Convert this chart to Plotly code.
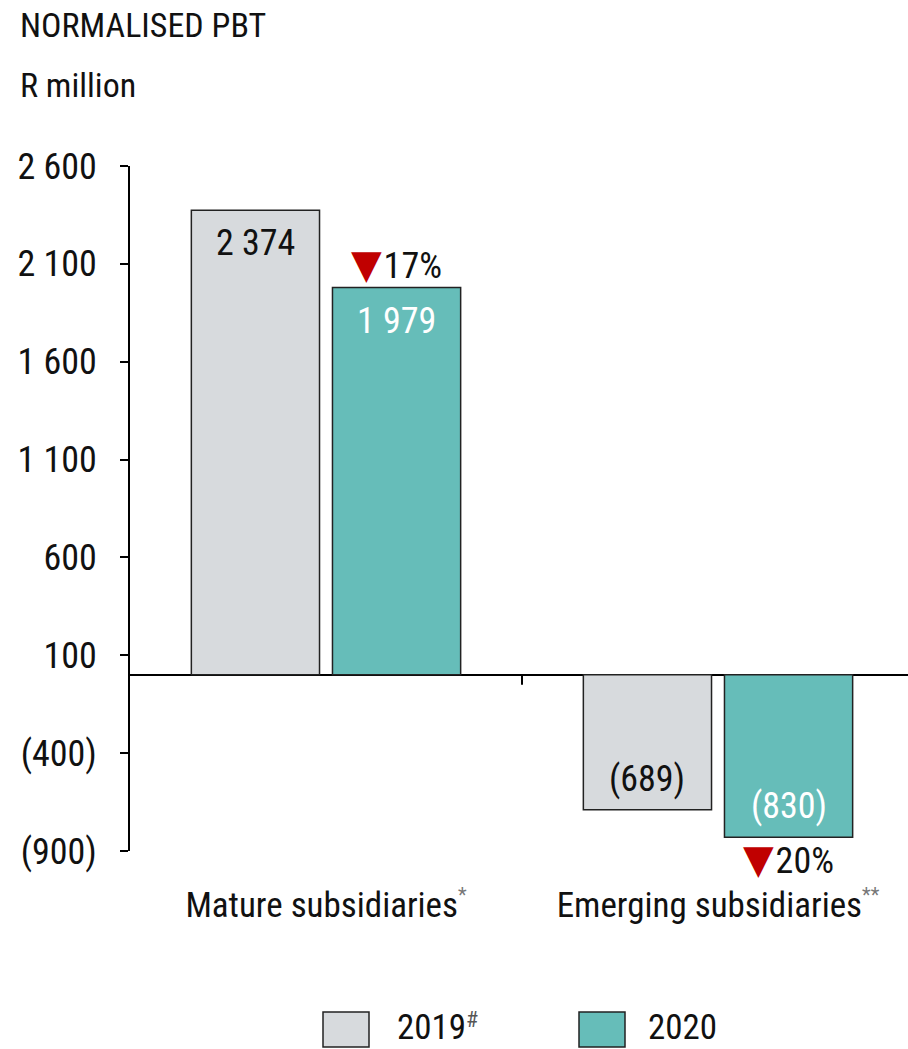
import plotly.graph_objects as go

# ---- data -------------------------------------------------------------
categories = ["Mature subsidiaries", "Emerging subsidiaries"]
category_marks = ["*", "**"]
years = ["2019", "2020"]
year_marks = ["#", ""]
pbt_2019 = [2374, -689]
pbt_2020 = [1979, -830]
y_ticks = [-900, -400, 100, 600, 1100, 1600, 2100, 2600]

# ---- style ------------------------------------------------------------
FONT = "Liberation Sans Narrow, Arial Narrow, Roboto Condensed, Roboto, sans-serif"
INK = "#111111"
GREY_FILL = "#d7dadd"
TEAL_FILL = "#66bdb9"
RED = "#c00000"
EDGE = "#222222"

W, H = 908, 1049
M_L, M_R, M_T, M_B = 130, 0, 166, 198
PLOT_W = W - M_L - M_R
PLOT_H = H - M_T - M_B
CAT_PX = 392                      # width of one category slot in pixels
X_RANGE = [-0.5, -0.5 + PLOT_W / CAT_PX]

BAR_W = 0.327
BAR_GAP = 0.033
offsets = [-(BAR_W + BAR_GAP / 2), BAR_GAP / 2]


def fmt(v):
    s = f"{abs(v):,.0f}".replace(",", " ")
    return f"({s})" if v < 0 else s


def px_x(px):
    return (px - M_L) / PLOT_W


def px_y(py):
    return (H - M_B - py) / PLOT_H


series = [pbt_2019, pbt_2020]
fills = [GREY_FILL, TEAL_FILL]
label_colors = [INK, "white"]
xs = list(range(len(categories)))

fig = go.Figure()
for k, vals in enumerate(series):
    fig.add_trace(go.Bar(
        x=xs, y=vals, name=years[k],
        width=BAR_W, offset=offsets[k],
        marker=dict(color=fills[k], line=dict(color=EDGE, width=1.5)),
        showlegend=False, hoverinfo="skip",
    ))

annotations = []
# value labels inside bars, near the bar end
for k, vals in enumerate(series):
    for i, v in enumerate(vals):
        annotations.append(dict(
            x=i + offsets[k] + BAR_W / 2, y=v, xref="x", yref="y",
            text=fmt(v), showarrow=False,
            yanchor="middle", yshift=-33 if v >= 0 else 31,
            font=dict(family=FONT, size=36, color=label_colors[k]),
        ))

# year-on-year change markers on the 2020 bars
for i, (a, b) in enumerate(zip(pbt_2019, pbt_2020)):
    pct = round(abs((b - a) / a) * 100)
    arrow = "▼" if b < a else "▲"
    annotations.append(dict(
        x=i + offsets[1] + BAR_W / 2, y=b, xref="x", yref="y",
        text=(f"<span style='color:{RED};font-family:DejaVu Sans;font-size:40px'>{arrow}</span>"
              f"<span style='font-size:8px'> </span>{pct}%"),
        showarrow=False, yanchor="middle",
        yshift=24 if b >= 0 else -22,
        font=dict(family=FONT, size=36, color=INK),
    ))

# headings
annotations.append(dict(
    x=px_x(18), y=px_y(25), xref="paper", yref="paper",
    text="NORMALISED PBT", showarrow=False, xanchor="left", yanchor="middle",
    font=dict(family=FONT, size=34, color=INK),
))
annotations.append(dict(
    x=px_x(18), y=px_y(85), xref="paper", yref="paper",
    text="R million", showarrow=False, xanchor="left", yanchor="middle",
    font=dict(family=FONT, size=34, color=INK),
))

# legend: swatches, labels and footnote marks
shapes = []
legend_items = [(323, 395, 464), (579, 646, None)]
for k, (box_x, text_x, mark_x) in enumerate(legend_items):
    shapes.append(dict(
        type="rect", xref="paper", yref="paper",
        x0=px_x(box_x), x1=px_x(box_x + 46), y0=px_y(1047), y1=px_y(1012),
        fillcolor=fills[k], line=dict(color=EDGE, width=1.5),
    ))
    annotations.append(dict(
        x=px_x(text_x), y=px_y(1027), xref="paper", yref="paper",
        text=years[k], showarrow=False, xanchor="left", yanchor="middle",
        font=dict(family=FONT, size=35, color=INK),
    ))
    if year_marks[k]:
        annotations.append(dict(
            x=px_x(mark_x), y=px_y(1019), xref="paper", yref="paper",
            text=year_marks[k], showarrow=False, xanchor="left", yanchor="middle",
            font=dict(family=FONT, size=22, color="#555555"),
        ))

# category divider tick on the zero line
shapes.append(dict(
    type="line", xref="x", yref="y", x0=0.5, x1=0.5,
    ysizemode="pixel", yanchor=0, y0=0, y1=-10,
    line=dict(color="black", width=2),
))

cat_text = [
    f"{c}<sup><span style='color:#777;font-size:20px'>{m}</span></sup>"
    for c, m in zip(categories, category_marks)
]

fig.update_layout(
    width=W, height=H,
    margin=dict(l=M_L, r=M_R, t=M_T, b=M_B, pad=0),
    paper_bgcolor="white", plot_bgcolor="white",
    barmode="group",
    annotations=annotations, shapes=shapes,
    font=dict(family=FONT, color=INK),
    xaxis=dict(
        range=X_RANGE, tickvals=xs, ticktext=cat_text,
        showline=False, showgrid=False, zeroline=False, ticks="",
        tickfont=dict(family=FONT, size=35, color=INK),
        ticklabelstandoff=30, fixedrange=True,
    ),
    yaxis=dict(
        range=[y_ticks[0], y_ticks[-1]],
        tickvals=y_ticks, ticktext=[fmt(v) for v in y_ticks],
        showline=True, linecolor="black", linewidth=2,
        ticks="outside", ticklen=8, tickwidth=2, tickcolor="black",
        showgrid=False, zeroline=True, zerolinecolor="black", zerolinewidth=2,
        tickfont=dict(family=FONT, size=36, color=INK),
        ticklabelstandoff=16, fixedrange=True,
    ),
)

fig.write_html("out.html")
